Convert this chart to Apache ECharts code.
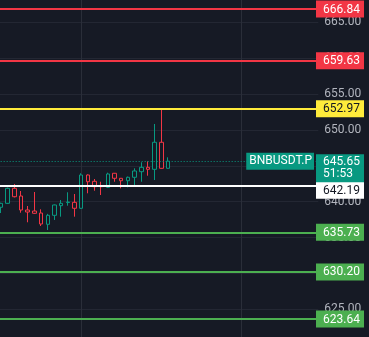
<!DOCTYPE html>
<html><head><meta charset="utf-8">
<script src="https://cdn.jsdelivr.net/npm/echarts@6/dist/echarts.min.js"></script>
<style>html,body{margin:0;padding:0;background:#161a25;overflow:hidden}#c{width:369px;height:337px;}</style>
</head><body><div id="c"></div>
<script>
// candles (oldest -> newest)
const categories = ['1','2','3','4','5','6','7','8','9','10','11','12','13','14','15','16','17','18','19','20','21','22','23','24','25','26'];
const opens  = [639.22,639.77,641.86,640.79,638.84,638.70,638.42,636.85,638.10,639.44,639.88,639.91,639.08,643.72,642.84,642.23,642.00,643.96,643.26,642.92,643.40,644.18,644.79,644.51,648.28,644.65];
const closes = [639.77,641.86,640.69,638.84,638.56,638.38,636.89,638.10,639.54,639.77,639.95,639.08,643.72,642.78,642.09,642.09,643.86,643.26,642.92,643.40,644.28,644.79,644.51,648.28,644.65,645.65];
const lows   = [638.42,639.70,640.60,638.46,637.13,638.30,636.61,636.05,637.45,637.91,639.44,637.91,639.00,641.17,641.53,640.93,641.90,642.78,641.86,642.00,642.32,642.78,643.62,643.02,644.60,644.60];
const highs  = [639.85,641.97,642.46,641.49,639.40,641.35,638.94,638.30,639.60,640.23,641.31,641.07,643.96,643.80,643.16,642.78,644.04,644.00,643.30,643.50,644.65,645.49,645.63,650.83,652.97,646.18];

// horizontal price levels
const levelValues = [666.84, 659.63, 652.97, 642.19, 635.73, 630.20, 623.64];
const levelKinds  = ['red', 'red', 'yellow', 'white', 'green', 'green', 'green'];
const lastPrice = 645.65;
const countdown = '51:53';
const symbolName = 'BNBUSDT.P';

// axis
const yMin = 621.14, yMax = 668.11, yStep = 5;
const sessionBreaks = [12, 36]; // category indices of vertical separators
const totalSlots = 48;

const palette = {
  red:    {line: '#f23645', text: '#ffffff'},
  yellow: {line: '#ffeb3b', text: '#131722'},
  white:  {line: '#ffffff', text: '#131722'},
  green:  {line: '#4caf50', text: '#ffffff'}
};
const upColor = '#089981', downColor = '#f23645', bg = '#161a25', gridColor = '#232733';

const xCats = categories.slice();
while (xCats.length < totalSlots) xCats.push('p' + xCats.length);
const candleData = categories.map((c, i) => [opens[i], closes[i], lows[i], highs[i]]);

const font = 'Roboto, "Noto Sans", sans-serif';
const boxStyle = (kind) => ({
  color: palette[kind].text, backgroundColor: palette[kind].line,
  fontFamily: font, fontSize: 12, lineHeight: 12, height: 12, width: 37, padding: [3, 4, 2, 7], align: 'left'
});
const spacer = (h) => ({fontSize: 1, lineHeight: h, height: h, color: 'rgba(0,0,0,0)'});

const levelLines = levelValues.map((v, i) => {
  const k = levelKinds[i];
  const shifted = k === 'white';
  return {
    yAxis: v,
    lineStyle: {color: palette[k].line, width: 2, type: 'solid'},
    label: {
      show: true, position: 'end', distance: -2.3,
      formatter: (shifted ? '{s| }\n' : '') + '{b|' + v.toFixed(2) + '}',
      rich: {b: boxStyle(k), s: spacer(8.6)}
    }
  };
});

levelLines.push({
  yAxis: lastPrice,
  lineStyle: {color: upColor, width: 1, type: [1, 2]},
  label: {show: true, position: 'insideEnd', distance: 4.3, formatter: symbolName,
    color: '#ffffff', backgroundColor: upColor, fontFamily: font, fontSize: 12, lineHeight: 13,
    padding: [2, 2, 2, 3]}
});
levelLines.push({
  yAxis: lastPrice,
  lineStyle: {color: 'rgba(0,0,0,0)', width: 0},
  label: {show: true, position: 'end', distance: -2.3,
    formatter: '{s| }\n{b|' + lastPrice.toFixed(2) + '}\n{b|' + countdown + '}',
    rich: {b: Object.assign(boxStyle('green'), {backgroundColor: upColor, padding: [2, 4, 2, 7]}), s: spacer(14)}}
});

const chart = echarts.init(document.getElementById('c'), null, {renderer: 'canvas'});
chart.setOption({
  backgroundColor: bg,
  animation: false,
  grid: {left: -2.34, right: 50.7, top: 0, bottom: 0, containLabel: false, outerBoundsMode: 'none'},
  xAxis: {type: 'category', data: xCats, boundaryGap: true,
    axisLine: {show: false}, axisTick: {show: false}, axisLabel: {show: false}, splitLine: {show: false}},
  yAxis: {type: 'value', position: 'right', min: yMin, max: yMax, minInterval: yStep, maxInterval: yStep,
    axisLine: {show: false}, axisTick: {show: false},
    axisLabel: {color: '#b2b5be', fontFamily: font, fontSize: 12, margin: 6, showMinLabel: false, showMaxLabel: false,
      formatter: v => v.toFixed(2)},
    splitLine: {show: true, showMinLine: false, showMaxLine: false, lineStyle: {color: gridColor, width: 1}}},
  series: [
    {
      type: 'line', data: [], silent: true,
      markLine: {silent: true, symbol: ['none', 'none'], z: 1, animation: false,
        label: {show: false},
        lineStyle: {color: '#2a2e39', width: 1, type: 'solid'},
        data: sessionBreaks.map(i => ({xAxis: i}))}
    },
    {
      type: 'candlestick', data: candleData, barWidth: 4,
      itemStyle: {color: bg, color0: bg, borderColor: upColor, borderColor0: downColor, borderWidth: 1},
      markLine: {silent: true, symbol: ['none', 'none'], animation: false, precision: 2,
        data: levelLines}
    }
  ]
});
</script></body></html>
